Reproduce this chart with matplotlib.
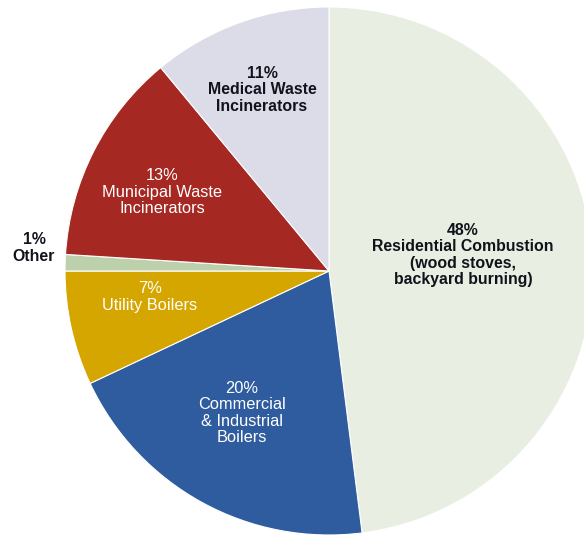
import matplotlib
matplotlib.use("Agg")
import matplotlib.pyplot as plt

# Dioxin emission sources, share of total (%)
sources = ["Residential Combustion\n(wood stoves,\nbackyard burning)",
           "Commercial\n& Industrial\nBoilers",
           "Utility Boilers",
           "Other",
           "Municipal Waste\nIncinerators",
           "Medical Waste\nIncinerators"]
shares = [48, 20, 7, 1, 13, 11]
colors = ["#E8EEE2", "#2F5C9E", "#D6A600", "#BCD0AC", "#A52822", "#DCDCE9"]
text_colors = ["#10131a", "white", "white", "#10131a", "white", "#10131a"]
# label anchor points in pixel space (x, y from top)
label_xy = [(463, 255), (242, 413), (150, 297), (34, 248), (162, 192), (262, 90)]

W, H = 584, 535
fig = plt.figure(figsize=(W / 100, H / 100), dpi=100)
ax = fig.add_axes([0, 0, 1, 1])

ax.pie(shares, colors=colors, startangle=90, counterclock=False,
       center=(329, H - 271), radius=264, frame=True,
       wedgeprops=dict(edgecolor="white", linewidth=0.8))
ax.set_xlim(0, W)
ax.set_ylim(0, H)
ax.set_aspect("equal")
ax.axis("off")

for name, pct, tc, (x, y) in zip(sources, shares, text_colors, label_xy):
    bold = tc != "white"
    ax.text(x, H - y, f"{pct}%\n{name}", ha="center", va="center",
            color=tc, fontsize=11.4 if bold else 11.8, linespacing=1.13,
            family=["Liberation Sans Narrow", "Liberation Sans", "DejaVu Sans"],
            fontweight="bold" if bold else "normal")

fig.savefig("out.png", dpi=100)
